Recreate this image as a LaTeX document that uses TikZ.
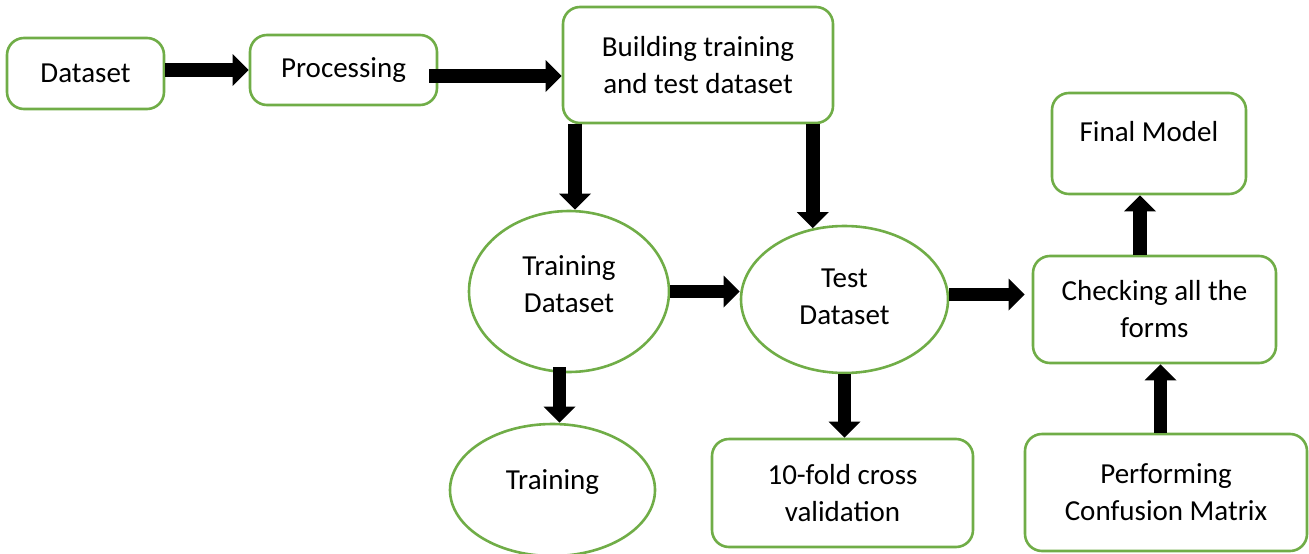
\documentclass[tikz,border=0pt]{standalone}
\usepackage{fontspec}
\setmainfont{Carlito}
\usetikzlibrary{shapes.geometric,arrows.meta}
\definecolor{boxgreen}{HTML}{70AD47}
\begin{document}
\begin{tikzpicture}[x=1pt,y=-1pt,
  every node/.style={font=\fontsize{29}{37}\selectfont, align=center, inner sep=0pt},
  rbox/.style={draw=boxgreen, line width=2.6pt, rounded corners=17pt, fill=white},
  ellbox/.style={ellipse, draw=boxgreen, line width=2.6pt, fill=white},
  blk/.style={line width=13.5pt, -{Triangle[length=16pt,width=32pt,line width=0pt]}}]
\useasboundingbox (0,0) rectangle (1309,554);
% nodes
\node[rbox, minimum width=157pt, minimum height=71pt] (dataset) at (85.5,73.5) {Dataset};
\node[rbox, minimum width=187pt, minimum height=70pt] (processing) at (343.5,70) {Processing};
\node[rbox, minimum width=270pt, minimum height=116pt] (building) at (698,65) {Building training\\and test dataset};
\node[rbox, minimum width=194pt, minimum height=101pt, text height=20pt, text depth=25pt] (final) at (1149,143.5) {Final Model};
\node[rbox, minimum width=243pt, minimum height=107pt] (checking) at (1154.5,309.5) {Checking all the\\forms};
\node[rbox, minimum width=282pt, minimum height=117pt] (perf) at (1166,492.5) {Performing\\Confusion Matrix};
\node[rbox, minimum width=261pt, minimum height=108pt] (fold) at (842.5,493) {10-fold cross\\validation};
\node[ellbox, minimum width=200pt, minimum height=161pt, text height=56pt, text depth=14pt] (trainds) at (569,291.5) {Training\\Dataset};
\node[ellbox, minimum width=207pt, minimum height=147pt, text height=56pt, text depth=6pt] (test) at (844.5,299.5) {Test\\Dataset};
\node[ellbox, minimum width=205pt, minimum height=132pt, text height=20pt, text depth=22pt] (training) at (552.5,490) {Training};
% helper coordinates
\coordinate (tdtop) at ([xshift=6pt]trainds.north);
\coordinate (tr) at ([xshift=7pt]training.north);
\coordinate (cf) at ([xshift=-9pt]final.south);
\coordinate (pc) at ([xshift=6pt]checking.south);
\coordinate (pstart) at ([xshift=-9pt,yshift=-6pt]processing.east);
\coordinate (tstart) at ([yshift=5pt]test.east);
\coordinate (cend) at ([xshift=-7pt]checking.west);
% arrows
\draw[blk] (dataset.east |- processing.west) -- (processing.west);
\draw[blk] (pstart) -- (pstart -| building.west);
\draw[blk] (building.south -| tdtop) -- (tdtop);
\draw[blk] (building.south -| test.114) -- (test.114);
\draw[blk] (trainds.east) -- (trainds.east -| test.west);
\draw[blk] (tstart) -- (tstart -| cend);
\draw[blk] ([yshift=6pt]tr |- trainds.south) -- (tr);
\draw[blk] (test.south) -- (test.south |- fold.north);
\draw[blk] (cf |- checking.north) -- (cf);
\draw[blk] (pc |- perf.north) -- (pc);
\end{tikzpicture}
\end{document}
